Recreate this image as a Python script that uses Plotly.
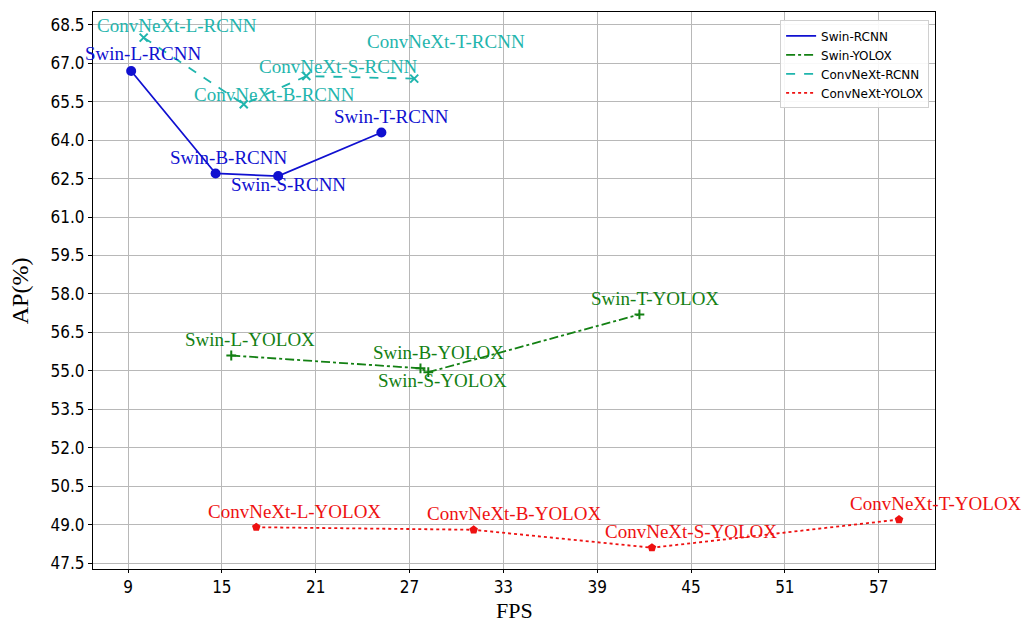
import plotly.graph_objects as go

sizes = ["L", "B", "S", "T"]

swin_rcnn_fps = [9.2, 14.6, 18.6, 25.2]
swin_rcnn_ap = [66.7, 62.7, 62.6, 64.3]

swin_yolox_fps = [15.6, 27.7, 28.2, 41.7]
swin_yolox_ap = [55.6, 55.1, 54.95, 57.2]

convnext_rcnn_fps = [10.0, 16.4, 20.4, 27.3]
convnext_rcnn_ap = [68.0, 65.4, 66.5, 66.4]

convnext_yolox_fps = [17.2, 31.1, 42.5, 58.3]
convnext_yolox_ap = [48.9, 48.8, 48.1, 49.2]

x_ticks = [9, 15, 21, 27, 33, 39, 45, 51, 57]
y_ticks = [47.5, 49.0, 50.5, 52.0, 53.5, 55.0, 56.5, 58.0, 59.5, 61.0, 62.5, 64.0, 65.5, 67.0, 68.5]

series = [
    dict(name="Swin-RCNN", prefix="Swin", suffix="RCNN", x=swin_rcnn_fps, y=swin_rcnn_ap,
         color="#1010d0", dash="solid", symbol="circle", msize=10, mline=0,
         offsets=[(12, 17), (13, 16), (10, -8), (10, 16)]),
    dict(name="Swin-YOLOX", prefix="Swin", suffix="YOLOX", x=swin_yolox_fps, y=swin_yolox_ap,
         color="#138013", dash="dashdot", symbol="cross-thin-open", msize=7, mline=2,
         offsets=[(19, 16), (18, 16), (14, -8), (16, 16)]),
    dict(name="ConvNeXt-RCNN", prefix="ConvNeXt", suffix="RCNN", x=convnext_rcnn_fps, y=convnext_rcnn_ap,
         color="#1fb5ad", dash="dash", symbol="x-thin-open", msize=8, mline=2,
         offsets=[(33, 12), (31, 10), (32, 10), (32, 37)]),
    dict(name="ConvNeXt-YOLOX", prefix="ConvNeXt", suffix="YOLOX", x=convnext_yolox_fps, y=convnext_yolox_ap,
         color="#ee1111", dash="dot", symbol="pentagon", msize=9, mline=0,
         offsets=[(38, 16), (40, 16), (39, 16), (37, 16)]),
]

fig = go.Figure()
annotations = []
for s in series:
    fig.add_trace(go.Scatter(
        x=s["x"], y=s["y"], mode="lines+markers", name=s["name"], showlegend=False,
        line=dict(color=s["color"], dash=s["dash"], width=1.8),
        marker=dict(symbol=s["symbol"], size=s["msize"], color=s["color"],
                    line=dict(color=s["color"], width=s["mline"])),
    ))
    for i, sz in enumerate(sizes):
        dx, dy = s["offsets"][i]
        annotations.append(dict(
            x=s["x"][i], y=s["y"][i], xref="x", yref="y",
            text=f"{s['prefix']}-{sz}-{s['suffix']}", showarrow=False,
            xshift=dx, yshift=dy,
            font=dict(family="Liberation Serif, Times New Roman, serif", size=19, color=s["color"]),
        ))

# legend entries show line style only (as in the reference)
for s in series:
    fig.add_trace(go.Scatter(
        x=[None], y=[None], mode="lines", name=s["name"],
        line=dict(color=s["color"], dash=s["dash"], width=1.8),
    ))

annotations.append(dict(text="FPS", xref="paper", yref="paper", x=0.5, y=-0.074,
                        xanchor="center", yanchor="middle", showarrow=False,
                        font=dict(family="Liberation Serif, Times New Roman, serif", size=22, color="black")))
annotations.append(dict(text="AP(%)", xref="paper", yref="paper", x=-0.087, y=0.5,
                        xanchor="center", yanchor="middle", showarrow=False, textangle=-90,
                        font=dict(family="Liberation Serif, Times New Roman, serif", size=24, color="black")))

tick_font = dict(family="Liberation Sans Narrow, DejaVu Sans Condensed, Arial", size=17, color="black")

fig.update_layout(
    width=1021, height=622,
    margin=dict(l=93, r=86, t=12, b=53),
    paper_bgcolor="white", plot_bgcolor="white",
    annotations=annotations,
    showlegend=True,
    legend=dict(x=0.993, y=0.985, xanchor="right", yanchor="top",
                bgcolor="rgba(255,255,255,0.9)", bordercolor="#d0d0d0", borderwidth=1,
                font=dict(family="DejaVu Sans", size=12, color="black"),
                tracegroupgap=0, itemwidth=30),
    xaxis=dict(range=[6.76, 60.6], tickvals=x_ticks, ticktext=[str(v) for v in x_ticks],
               showgrid=True, gridcolor="#b8b8b8", gridwidth=1, zeroline=False,
               showline=True, linecolor="black", linewidth=1, mirror=True, automargin=False,
               ticks="outside", ticklen=3, tickcolor="black", tickfont=tick_font),
    yaxis=dict(range=[47.27, 69.0], tickvals=y_ticks, ticktext=[f"{v:.1f}" for v in y_ticks],
               showgrid=True, gridcolor="#b8b8b8", gridwidth=1, zeroline=False,
               showline=True, linecolor="black", linewidth=1, mirror=True, automargin=False,
               ticks="outside", ticklen=4, tickcolor="black", tickfont=tick_font),
)

fig.write_html("out.html")
